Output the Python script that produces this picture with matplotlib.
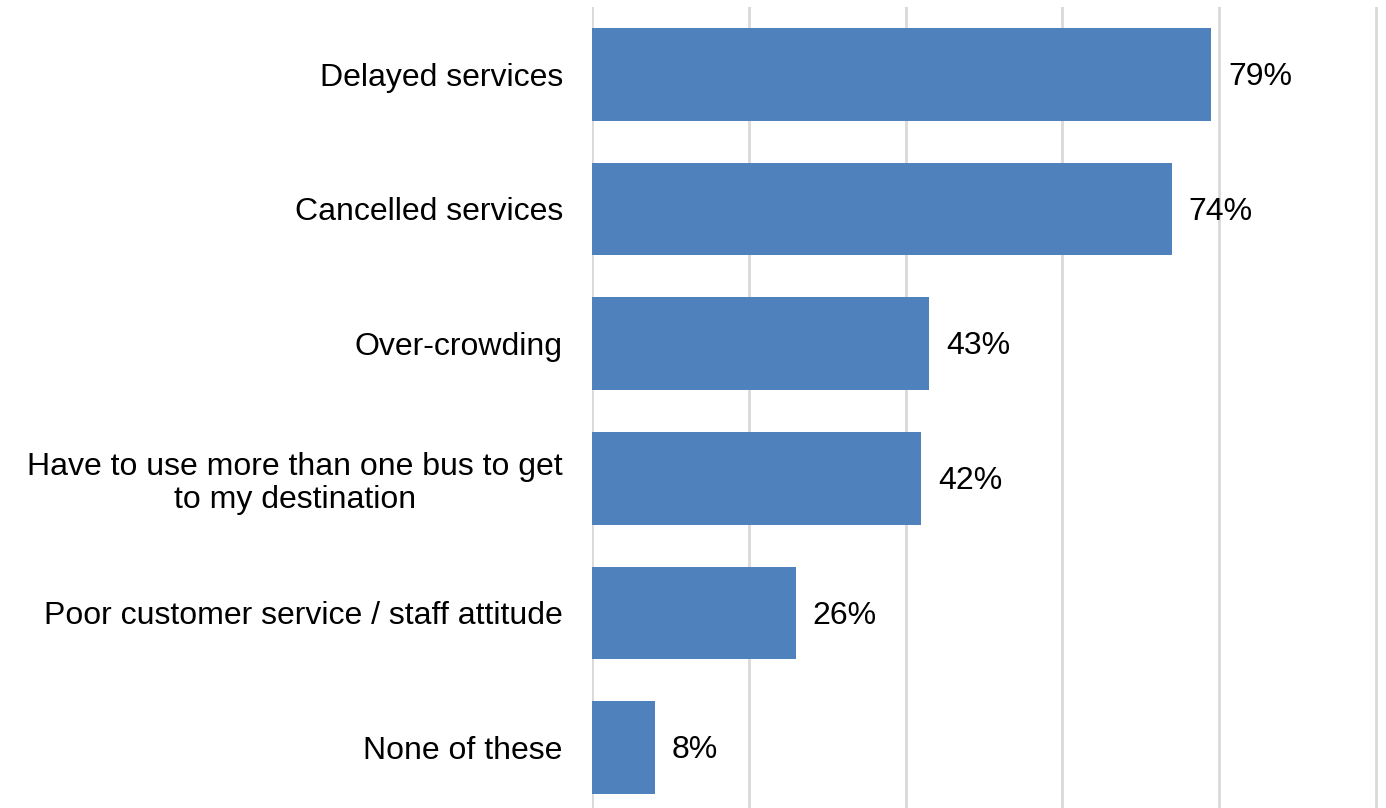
import matplotlib.pyplot as plt
import numpy as np

plt.rcParams['font.family'] = ['Liberation Sans', 'DejaVu Sans']

# data
categories = ['Delayed services', 'Cancelled services', 'Over-crowding',
              'Have to use more than one bus to get\nto my destination',
              'Poor customer service / staff attitude', 'None of these']
values = [79, 74, 43, 42, 26, 8]

fig = plt.figure(figsize=(13.86, 8.08), dpi=100)
ax = fig.add_axes([592 / 1386, -7 / 808, 786 / 1386, 808 / 808])

y = np.arange(len(categories))
bars = ax.barh(y, values, height=0.69, color='#4F81BD', zorder=3)

ax.set_xlim(0, 100.25)
ax.set_ylim(len(categories) - 0.5, -0.5)
ax.set_xticks(np.arange(0, 101, 20))
ax.set_xticklabels([])
ax.tick_params(axis='x', length=0)
ax.grid(axis='x', color='#D9D9D9', linewidth=2, zorder=0)

ax.set_yticks(y)
ax.set_yticklabels(categories, fontsize=23, linespacing=1.12,
                   multialignment='center')
ax.tick_params(axis='y', length=0, pad=21)

for s in ax.spines.values():
    s.set_visible(False)

for b, v in zip(bars, values):
    ax.annotate(f'{v}%', (b.get_width(), b.get_y() + b.get_height() / 2),
                xytext=(12, -2), textcoords='offset points',
                va='center', ha='left', fontsize=23)

fig.savefig('out.png', dpi=100)
